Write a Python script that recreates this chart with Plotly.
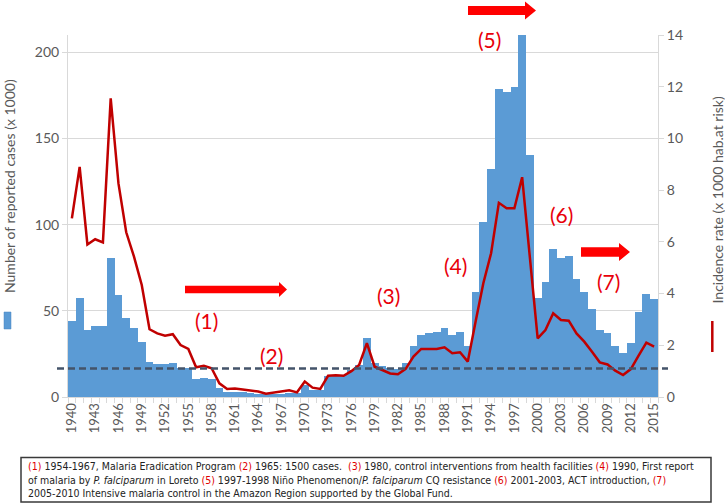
import plotly.graph_objects as go

# ---------------- data ----------------
years = list(range(1940, 2016))
cases_thousands = [
    44.1, 57.6, 38.8, 41.2, 41.2, 80.4, 59.0, 46.0, 40.0, 32.0,
    20.1, 19.0, 19.0, 20.0, 17.0, 17.0, 10.2, 11.2, 10.4, 5.4,
    3.1, 3.1, 2.7, 2.3, 1.9, 1.5, 1.8, 2.0, 2.3, 2.3,
    7.0, 4.0, 4.0, 12.2, 12.8, 12.8, 15.6, 18.5, 34.0, 19.9,
    18.0, 16.6, 16.0, 20.0, 29.6, 36.0, 36.9, 37.9, 39.8, 36.0,
    37.5, 29.7, 60.7, 101.6, 132.0, 178.4, 177.0, 179.9, 209.9, 140.3,
    57.6, 66.8, 85.8, 80.4, 81.7, 68.2, 60.7, 50.8, 38.8, 37.3,
    29.6, 25.7, 31.5, 49.1, 59.5, 56.6,
]
incidence_rate = [
    6.91, 8.90, 5.90, 6.10, 5.98, 11.55, 8.26, 6.37, 5.43, 4.33,
    2.62, 2.46, 2.37, 2.43, 2.01, 1.86, 1.15, 1.21, 1.11, 0.53,
    0.31, 0.33, 0.29, 0.26, 0.21, 0.13, 0.17, 0.21, 0.26, 0.18,
    0.60, 0.36, 0.31, 0.82, 0.84, 0.82, 1.00, 1.24, 2.08, 1.17,
    1.04, 0.91, 0.88, 1.09, 1.56, 1.86, 1.86, 1.86, 1.92, 1.69,
    1.73, 1.37, 2.91, 4.40, 5.56, 7.51, 7.30, 7.30, 8.50, 5.35,
    2.27, 2.59, 3.24, 2.98, 2.95, 2.46, 2.14, 1.75, 1.34, 1.26,
    1.02, 0.85, 1.08, 1.60, 2.10, 1.95,
]
threshold_cases = 16.6  # dashed reference line (x 1000 cases)

label_texts = ["(1)", "(2)", "(3)", "(4)", "(5)", "(6)", "(7)"]

caption_lines = [
    '<span style="color:#E00000">(1)</span> 1954-1967, Malaria Eradication Program '
    '<span style="color:#E00000">(2)</span> 1965: 1500 cases.  '
    '<span style="color:#E00000">(3)</span> 1980, control interventions from health facilities '
    '<span style="color:#E00000">(4)</span> 1990, First report',
    'of malaria by <i>P. falciparum</i> in Loreto '
    '<span style="color:#E00000">(5)</span> 1997-1998 Niño Phenomenon/<i>P. falciparum</i> CQ resistance '
    '<span style="color:#E00000">(6)</span> 2001-2003, ACT introduction, '
    '<span style="color:#E00000">(7)</span>',
    '2005-2010 Intensive malaria control in the Amazon Region supported by the Global Fund.',
]

# ---------------- layout geometry (pixels) ----------------
W, H = 725, 504
PL, PR, PT, PB = 68, 658, 35, 397


def px(x):
    return (x - PL) / (PR - PL)


def py(y):
    return (PB - y) / (PB - PT)


BLUE = "#5B9BD5"
DARKRED = "#C00000"
RED = "#FF0000"
LABEL_RED = "#E8000A"
GRAY = "#595959"
FONT = "Lato, Open Sans, sans-serif"

fig = go.Figure()
fig.add_trace(go.Bar(
    x=years, y=cases_thousands, marker=dict(color=BLUE, line=dict(width=0)),
    name="Number of reported cases (x 1000)", yaxis="y",
))
fig.add_trace(go.Scatter(
    x=years, y=incidence_rate, mode="lines",
    line=dict(color=DARKRED, width=2.5),
    name="Incidence rate (x 1000 hab.at risk)", yaxis="y2",
))

shapes = []
# dashed reference line
shapes.append(dict(type="line", xref="paper", yref="y",
                   x0=px(57), x1=px(668), y0=threshold_cases, y1=threshold_cases,
                   line=dict(color="#44546A", width=2.5, dash="7px,4px"), layer="above"))


def block_arrow(x0, x1, yc, shaft_half, head_half, head_len):
    xb = x1 - head_len
    pts = [(x0, yc - shaft_half), (xb, yc - shaft_half), (xb, yc - head_half),
           (x1, yc), (xb, yc + head_half), (xb, yc + shaft_half), (x0, yc + shaft_half)]
    path = "M " + " L ".join(f"{px(a):.5f},{py(b):.5f}" for a, b in pts) + " Z"
    return dict(type="path", xref="paper", yref="paper", path=path,
                fillcolor=RED, line=dict(width=0), layer="above")


shapes.append(block_arrow(185, 287, 289.5, 3.8, 7.5, 8))
shapes.append(block_arrow(468, 536, 10.5, 4.5, 9, 11))
shapes.append(block_arrow(581, 630, 252, 4.8, 9, 11))

# legend symbols
shapes.append(dict(type="rect", xref="paper", yref="paper",
                   x0=px(4), x1=px(11), y0=py(329), y1=py(312),
                   fillcolor=BLUE, line=dict(color="#4A86C0", width=0.5)))
shapes.append(dict(type="line", xref="paper", yref="paper",
                   x0=px(712.3), x1=px(712.3), y0=py(352), y1=py(321),
                   line=dict(color=DARKRED, width=2.5)))

# caption box
shapes.append(dict(type="rect", xref="paper", yref="paper",
                   x0=px(21), x1=px(711), y0=py(502), y1=py(457.5),
                   line=dict(color="#3A3A3A", width=1.5), fillcolor="white"))

annotations = []
label_pos = [(206.7, 320), (271, 355), (388.3, 295), (455.7, 265.7),
             (489, 39.3), (561.7, 215), (608.3, 281)]
for t, (lx, ly) in zip(label_texts, label_pos):
    annotations.append(dict(text=t, x=px(lx), y=py(ly), xref="paper", yref="paper",
                            showarrow=False, font=dict(family=FONT, size=21, color=LABEL_RED),
                            xanchor="center", yanchor="middle"))

annotations.append(dict(text="Number of reported cases (x 1000)", textangle=-90,
                        x=px(9), y=py(186), xref="paper", yref="paper", showarrow=False,
                        font=dict(family=FONT, size=14, color=GRAY),
                        xanchor="center", yanchor="middle"))
annotations.append(dict(text="Incidence rate (x 1000 hab.at risk)", textangle=-90,
                        x=px(716.5), y=py(200), xref="paper", yref="paper", showarrow=False,
                        font=dict(family=FONT, size=14, color=GRAY),
                        xanchor="center", yanchor="middle"))

annotations.append(dict(text="<br>".join(caption_lines), align="left",
                        x=px(26), y=py(458), xref="paper", yref="paper", showarrow=False,
                        xanchor="left", yanchor="top",
                        font=dict(family="Liberation Sans Narrow, DejaVu Sans Condensed, Arial Narrow, sans-serif",
                                  size=10.5, color="#222222")))

fig.update_layout(
    template="none",
    width=W, height=H, autosize=False,
    margin=dict(l=PL, r=W - PR, t=PT, b=H - PB, pad=0),
    paper_bgcolor="white", plot_bgcolor="white",
    showlegend=False, bargap=0,
    shapes=shapes, annotations=annotations,
    xaxis=dict(range=[1939.5, 2015.5], tick0=1940, dtick=3, tickangle=-90,
               ticks="", showgrid=False, zeroline=False, automargin=False,
               showline=True, linecolor="#D9D9D9", linewidth=1,
               tickfont=dict(family=FONT, size=13, color=GRAY),
               minor=dict(tick0=1939.5, dtick=1, ticks="outside", ticklen=5,
                          tickcolor="#D9D9D9", showgrid=False)),
    yaxis=dict(range=[0, 210], tick0=0, dtick=50, showgrid=True, gridcolor="#D9D9D9",
               zeroline=False, showline=True, linecolor="#D9D9D9", linewidth=1,
               ticks="outside", ticklen=5, tickcolor="#D9D9D9", automargin=False,
               tickfont=dict(family=FONT, size=14, color=GRAY)),
    yaxis2=dict(range=[0, 14], tick0=0, dtick=2, overlaying="y", side="right",
                showgrid=False, zeroline=False, showline=True, linecolor="#D9D9D9",
                linewidth=1, ticks="outside", ticklen=5, tickcolor="#D9D9D9",
                automargin=False,
                tickfont=dict(family=FONT, size=14, color=GRAY)),
)

fig.write_html("out.html", config={"displayModeBar": False},
               post_script="document.body.style.margin='0px';document.body.style.overflow='hidden';")
